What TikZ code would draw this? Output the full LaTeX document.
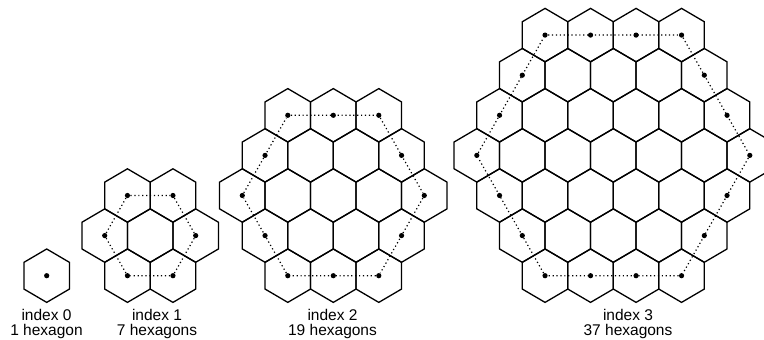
\documentclass[tikz,border=0pt]{standalone}
\usepackage{fontspec}
\setmainfont{Liberation Sans}
\usepackage{tikz}

\begin{document}
\begin{tikzpicture}[x=0.5pt, y=-0.5pt,
    cell/.style={draw, line width=0.65pt, line join=miter},
    dot/.style={circle, fill, inner sep=0pt, minimum size=2.6pt},
    ringline/.style={line width=0.6pt, dash pattern=on 0.6pt off 1.35pt},
    lbl/.style={align=center, inner sep=0pt, font=\fontsize{7.75pt}{7.5pt}\selectfont}]

    % page frame
    \useasboundingbox (0,0) rectangle (764,340);

    % clusters: centre x / centre y / index / name
    \foreach \cx/\cy/\n/\id in {46.7/275.7/0/a, 150.2/235.6/1/b, 333.3/195.5/2/c, 613.3/155.4/3/d} {
        \pgfmathtruncatemacro\rows{2*\n}
        \foreach \rr in {0,...,\rows} {
            \pgfmathtruncatemacro\cnt{2*\n+1-abs(\rr-\n)}
            \foreach \k in {1,...,\cnt} {
                \pgfmathsetmacro\x{\cx+(\k-(\cnt+1)/2)*45.5}
                \pgfmathsetmacro\y{\cy+(\rr-\n)*40.1}
                % one hexagon
                \draw[cell] (\x,\y) +(0,-26.7) -- +(22.75,-13.35) -- +(22.75,13.35)
                    -- +(0,26.7) -- +(-22.75,13.35) -- +(-22.75,-13.35) -- cycle;
                % dot on the outer ring
                \pgfmathtruncatemacro\ring{(\rr==0)||(\rr==\rows)||(\k==1)||(\k==\cnt)}
                \ifnum\ring=1 \node[dot] (\id\rr-\k) at (\x,\y) {}; \fi
            }
        }
        % dotted ring through the corner cells
        \ifnum\n>0
            \pgfmathtruncatemacro\topcnt{\n+1}
            \pgfmathtruncatemacro\midcnt{2*\n+1}
            \draw[ringline] (\id0-1) -- (\id0-\topcnt) -- (\id\n-\midcnt)
                -- (\id\rows-\topcnt) -- (\id\rows-1) -- (\id\n-1) -- (\id0-1);
        \fi
    }

    % labels
    \node[lbl] (lab0) at (46.5,323.5) {index 0\\1 hexagon};
    \node[lbl] (lab1) at (157,323.5) {index 1\\7 hexagons};
    \node[lbl] (lab2) at (332.5,323.5) {index 2\\19 hexagons};
    \node[lbl] (lab3) at (628,323.5) {index 3\\37 hexagons};

\end{tikzpicture}
\end{document}
